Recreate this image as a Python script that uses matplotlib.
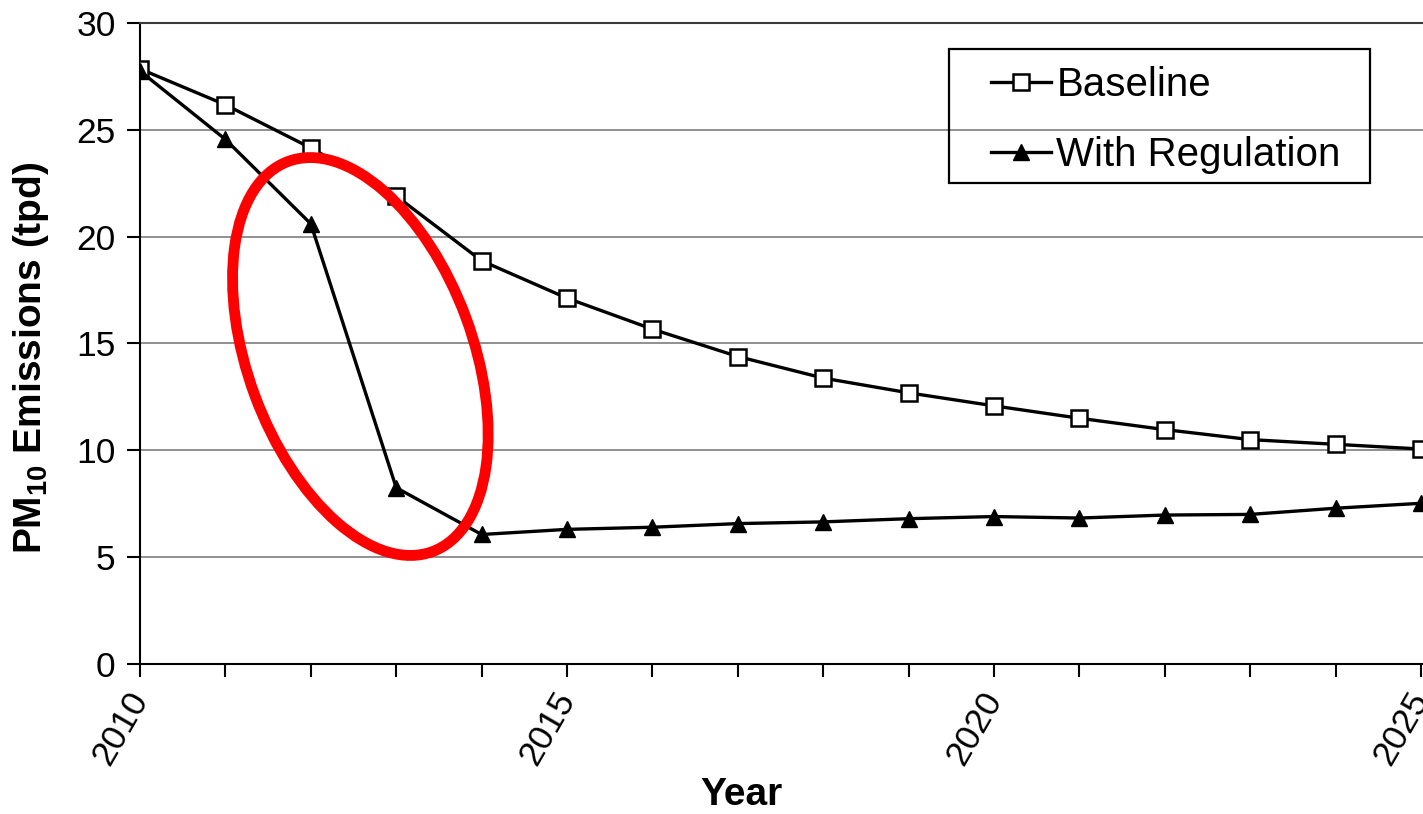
import matplotlib
matplotlib.use("Agg")
import matplotlib.pyplot as plt
from matplotlib.patches import Ellipse, Rectangle
from matplotlib.ticker import MultipleLocator

plt.rcParams['font.family'] = ['Liberation Sans', 'DejaVu Sans']
plt.rcParams['mathtext.fontset'] = 'custom'
plt.rcParams['mathtext.rm'] = 'Liberation Sans'
plt.rcParams['mathtext.bf'] = 'Liberation Sans:bold'
plt.rcParams['mathtext.default'] = 'bf'

# PM10 emissions, tons per day
years = list(range(2010, 2026))
baseline = [27.85, 26.17, 24.15, 21.9, 18.87, 17.12, 15.67, 14.39,
            13.38, 12.69, 12.08, 11.5, 10.97, 10.5, 10.28, 10.06]
with_regulation = [27.75, 24.55, 20.6, 8.25, 6.06, 6.3, 6.4, 6.57,
                   6.65, 6.8, 6.9, 6.83, 6.97, 7.0, 7.29, 7.52]

# highlight around the steep drop
highlight_center = (2012.58, 14.39)

fig = plt.figure(figsize=(14.23, 8.14), dpi=100)
ax = fig.add_axes([0.0984, 0.1843, 0.9016, 0.7875])

ax.plot(years, baseline, color='black', lw=2.4, marker='s', markersize=11,
        markerfacecolor='white', markeredgecolor='black', markeredgewidth=1.8,
        label='Baseline', zorder=3)
ax.plot(years, with_regulation, color='black', lw=2.4, marker='^', markersize=12,
        markerfacecolor='black', markeredgecolor='black',
        label='With Regulation', zorder=3)

ax.set_xlim(2010, 2025.023)
ax.set_ylim(0, 30)
ax.yaxis.set_major_locator(MultipleLocator(5))
ax.xaxis.set_major_locator(MultipleLocator(5))
ax.xaxis.set_minor_locator(MultipleLocator(1))
ax.yaxis.grid(True, color='#8f8f8f', lw=1.4)
ax.set_axisbelow(True)

for side in ('left', 'bottom'):
    ax.spines[side].set_linewidth(1.5)
ax.spines['top'].set_color('#3a3a3a')
ax.spines['top'].set_linewidth(1.5)
ax.spines['right'].set_visible(False)

ax.tick_params(axis='y', which='major', direction='out', length=9.5, width=1.5,
               labelsize=25.5, pad=8)
ax.tick_params(axis='x', which='both', direction='out', length=9.5, width=1.5)
ax.tick_params(axis='x', which='major', labelsize=25.5, pad=12)
for lbl in ax.get_xticklabels():
    lbl.set_rotation(60)
    lbl.set_ha('right')
    lbl.set_va('center')
    lbl.set_rotation_mode('anchor')

ax.set_ylabel('PM$_{10}$ Emissions (tpd)', fontsize=28, fontweight='bold')
ax.yaxis.set_label_coords(-0.069, 0.478)
ax.set_xlabel('Year', fontsize=28, fontweight='bold')
ax.xaxis.set_label_coords(0.469, -0.176)

# legend entries without frame, box drawn separately
leg = ax.legend(loc='center left', bbox_to_anchor=(991 / 1423, 1 - 120 / 814),
                bbox_transform=fig.transFigure, fontsize=29, frameon=False,
                handlelength=1.5, handletextpad=0.12, labelspacing=0.8,
                borderpad=0, borderaxespad=0)
fig.patches.append(Rectangle((949 / 1423, 1 - 183 / 814), 421 / 1423, 134 / 814,
                             transform=fig.transFigure, fill=False,
                             edgecolor='black', lw=1.6, zorder=4))

# red ring drawn in inches so it stays a true ellipse
cx, cy = ax.transData.transform(highlight_center)
ring = Ellipse((cx / fig.dpi, cy / fig.dpi), width=2.25, height=4.16, angle=20.3,
               transform=fig.dpi_scale_trans, fill=False, edgecolor='#ff0000',
               lw=7.8, zorder=5, clip_on=False)
ax.add_patch(ring)

fig.savefig('out.png', dpi=100)
